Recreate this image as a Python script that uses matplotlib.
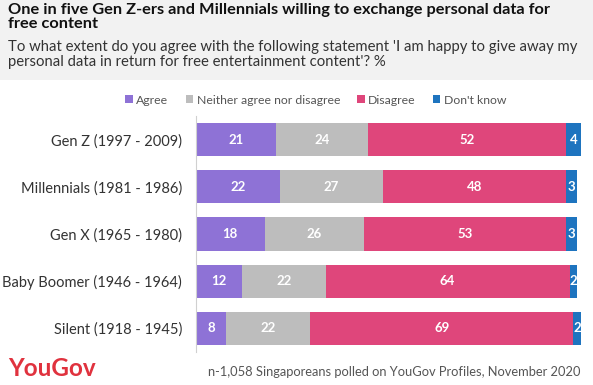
import matplotlib
matplotlib.use("Agg")
import matplotlib.pyplot as plt
from matplotlib.patches import Rectangle

categories = ["Gen Z (1997 - 2009)", "Millennials (1981 - 1986)", "Gen X (1965 - 1980)",
              "Baby Boomer (1946 - 1964)", "Silent (1918 - 1945)"]
series_names = ["Agree", "Neither agree nor disagree", "Disagree", "Don't know"]
agree = [21, 22, 18, 12, 8]
neither = [24, 27, 26, 22, 22]
disagree = [52, 48, 53, 64, 69]
dont_know = [4, 3, 3, 2, 2]
colors = ["#8E72D6", "#BDBDBD", "#DF467B", "#1E74BF"]

plt.rcParams['font.family'] = ['Lato', 'DejaVu Sans']
W, H = 593, 385
fig = plt.figure(figsize=(W/100, H/100), dpi=100)

# header band
fig.patches.append(Rectangle((0, 1-80/H), 1, 80/H, transform=fig.transFigure,
                             facecolor="#F2F2F2", edgecolor="none", zorder=0))
fig.text(8/W, 1-3/H, "One in five Gen Z-ers and Millennials willing to exchange personal data for\nfree content",
         fontsize=11.8, fontweight="bold", color="#111111", va="top", ha="left", linespacing=0.98)
fig.text(8/W, 1-40/H, "To what extent do you agree with the following statement 'I am happy to give away my\npersonal data in return for free entertainment content'? %",
         fontsize=10.7, color="#333333", va="top", ha="left", linespacing=1.05)

ax = fig.add_axes([196/W, 1-352/H, 385/W, (352-116)/H])
data = [agree, neither, disagree, dont_know]
y = list(range(len(categories)))
left = [0]*len(categories)
for name, vals, c in zip(series_names, data, colors):
    ax.barh(y, vals, left=left, height=0.7, color=c, label=name)
    for yi, l, v in zip(y, left, vals):
        ax.text(l + v/2, yi, str(v), ha="center", va="center", color="white",
                fontsize=9.5, fontweight="bold")
    left = [a+b for a, b in zip(left, vals)]

ax.set_xlim(0, 101)
ax.set_ylim(len(categories)-0.5, -0.5)
ax.set_yticks(y)
ax.set_yticklabels(categories, fontsize=10.5, color="#333333")
ax.tick_params(axis="y", length=0, pad=10)
ax.set_xticks([])
for s in ["top", "right", "bottom"]:
    ax.spines[s].set_visible(False)
ax.spines["left"].set_color("#D0D0D0")

handles, labels = ax.get_legend_handles_labels()
fig.legend(handles, labels, loc="center", bbox_to_anchor=(316/W, 1-100/H), ncol=4,
           frameon=False, fontsize=8.8, handlelength=0.6, handleheight=0.6,
           handletextpad=0.3, columnspacing=1.4, labelcolor="#555555")

fig.text(8/W, 1-369/H, "YouGov", fontsize=17.5, fontweight="bold", color="#E0323E",
         va="center", ha="left")
fig.text(581/W, 1-372/H, "n-1,058 Singaporeans polled on YouGov Profiles, November 2020",
         fontsize=9.3, color="#555555", va="center", ha="right")

fig.savefig("out.png", dpi=100)
